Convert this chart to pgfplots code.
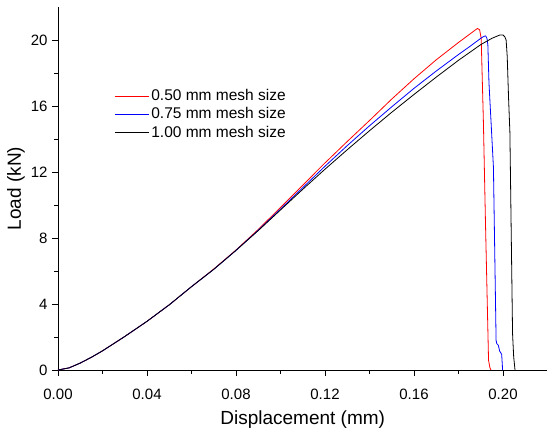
\documentclass[border=0pt]{standalone}
\usepackage{pgfplots}
\pgfplotsset{compat=1.18}
\usepackage{fontspec}
\setmainfont{Liberation Sans}
\begin{document}
\begin{tikzpicture}
\useasboundingbox (-58pt,-59pt) rectangle (492pt,370pt);
\begin{axis}[
  at={(0pt,0pt)}, anchor=south west,
  width=489.5pt, height=363pt, scale only axis,
  xmin=0, xmax=0.22, ymin=0, ymax=22,
  axis x line*=bottom, axis y line*=left,
  axis line style={line width=0.9pt},
  xtick={0,0.04,0.08,0.12,0.16,0.20},
  ytick={0,4,8,12,16,20},
  minor x tick num=1, minor y tick num=1,
  tick align=outside,
  major tick length=6pt, minor tick length=3.5pt,
  every tick/.style={black, line width=0.9pt},
  /pgf/number format/assume math mode=true,
  xticklabel style={/pgf/number format/fixed, /pgf/number format/fixed zerofill, /pgf/number format/precision=2, font=\fontsize{15}{18}\selectfont, yshift=-9pt},
  yticklabel style={font=\fontsize{15}{18}\selectfont, xshift=-1pt},
  scaled x ticks=false,
  xlabel={Displacement (mm)}, ylabel={Load (kN)},
  xlabel style={font=\fontsize{19}{22}\selectfont, at={(axis description cs:0.5,-0.1488)}, anchor=base},
  ylabel style={font=\fontsize{19}{22}\selectfont, at={(axis description cs:-0.0858,0.5)}, anchor=center, rotate=0},
  legend style={draw=none, fill=none, at={(rel axis cs:0.109,0.786)}, anchor=north west,
    font=\fontsize{15.5}{18}\selectfont, nodes={inner xsep=2pt, inner ysep=2.7pt}},
  legend cell align=left,
  legend image code/.code={\draw[#1] (0pt,0pt) -- (34pt,0pt);},
]
\addplot[red, line width=0.8pt] coordinates {
(0,0) (0.005,0.13) (0.01,0.42) (0.015,0.77) (0.02,1.16) (0.03,2.03) (0.04,2.95)
(0.05,3.95) (0.06,5.05) (0.07,6.12) (0.08,7.27) (0.09,8.52) (0.10,9.85) (0.11,11.2)
(0.12,12.55) (0.13,13.85) (0.14,15.12) (0.15,16.42) (0.16,17.65) (0.17,18.8)
(0.18,19.85) (0.185,20.35) (0.1875,20.6) (0.1885,20.7) (0.1895,20.62)
(0.1902,20.1) (0.1912,15.0) (0.1921,9.1) (0.1935,0.6) (0.1941,0.15) (0.1946,0)
};
\addlegendentry{0.50 mm mesh size}
\addplot[blue, line width=0.8pt] coordinates {
(0,0) (0.005,0.13) (0.01,0.42) (0.015,0.77) (0.02,1.16) (0.03,2.03) (0.04,2.95)
(0.05,3.95) (0.06,5.05) (0.07,6.1) (0.08,7.25) (0.09,8.47) (0.10,9.75) (0.11,11.05)
(0.12,12.35) (0.13,13.6) (0.14,14.8) (0.15,15.95) (0.16,17.07) (0.17,18.12)
(0.18,19.12) (0.185,19.6) (0.189,20.0) (0.1905,20.15) (0.1915,20.22) (0.1922,20.25)
(0.1928,20.1) (0.1932,19.7) (0.1937,17.4) (0.1957,12.3) (0.1969,1.8) (0.1972,1.6)
(0.1979,1.5) (0.1985,1.15) (0.1994,0.95) (0.1997,0.3) (0.1998,0)
};
\addlegendentry{0.75 mm mesh size}
\addplot[black, line width=0.8pt] coordinates {
(0,0) (0.005,0.13) (0.01,0.42) (0.015,0.77) (0.02,1.16) (0.03,2.03) (0.04,2.95)
(0.05,3.95) (0.06,5.05) (0.07,6.1) (0.08,7.25) (0.09,8.45) (0.10,9.7) (0.11,10.95)
(0.12,12.17) (0.13,13.35) (0.14,14.5) (0.15,15.62) (0.16,16.7) (0.17,17.75)
(0.18,18.77) (0.19,19.72) (0.195,20.1) (0.1985,20.3) (0.2000,20.3) (0.2008,20.2)
(0.2014,20.0) (0.2019,19.0) (0.2025,16.5) (0.2031,14.4) (0.2043,2.2) (0.2048,0.8)
(0.2054,0)
};
\addlegendentry{1.00 mm mesh size}
\end{axis}
\end{tikzpicture}
\end{document}
